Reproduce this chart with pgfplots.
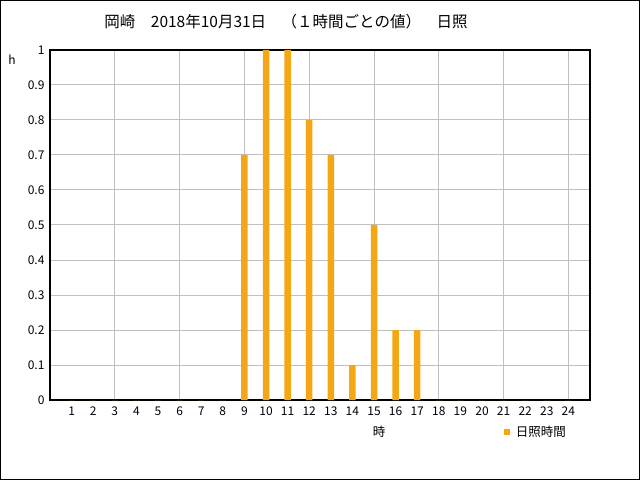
\documentclass[border=0pt]{standalone}
\usepackage{fontspec}
\setmainfont{Noto Sans CJK JP}
\usepackage{pgfplots}
\pgfplotsset{compat=1.18}
\definecolor{barorange}{RGB}{245,166,20}
\definecolor{gridgray}{RGB}{192,192,192}
\begin{document}
\begin{tikzpicture}[x=1pt,y=1pt]
\useasboundingbox (0,0) rectangle (640,480);
\fill[white] (0,0) rectangle (640,480);
\draw[black, line width=1pt] (0.5,0.5) rectangle (639.5,479.5);
\node[font=\fontsize{15.5}{17}\selectfont, anchor=center] at (286,458) {岡崎　2018年10月31日　（１時間ごとの値）　日照};
\node[font=\fontsize{12}{13}\selectfont] at (12,420) {h};
\node[font=\fontsize{12.5}{13}\selectfont] at (379,48) {時};
\begin{axis}[
 at={(50pt,80pt)}, anchor=south west,
 width=540pt, height=350pt, scale only axis,
 xmin=0, xmax=25, ymin=0, ymax=1,
 ybar, bar width=6.5pt,
 xtick={1,...,24},
 ytick={0,0.1,0.2,0.3,0.4,0.5,0.6,0.7,0.8,0.9,1},
 minor xtick={3,6,9,12,15,18,21,24},
 xminorgrids=true, ymajorgrids=true, xmajorgrids=false,
 grid style={gridgray, line width=1pt},
 minor grid style={gridgray, line width=1pt},
 major tick length=0pt, minor tick length=0pt,
 axis line style={black, line width=1.2pt},
 tick label style={font=\fontsize{12}{13}\selectfont},
 xticklabel style={yshift=-3pt},
 yticklabel style={xshift=-2pt},
 /pgf/number format/assume math mode=true,
 legend style={at={(0.84,-0.092)}, anchor=west, draw=none, fill=none,
   font=\fontsize{12.5}{13}\selectfont, inner sep=0pt},
]
\addplot[fill=barorange, draw=none,
  legend image code/.code={\fill[barorange] (0pt,-3pt) rectangle (6pt,3pt); \path (0pt,0pt) -- (10pt,0pt);}]
 coordinates {(1,0) (2,0) (3,0) (4,0) (5,0) (6,0) (7,0) (8,0)
 (9,0.7) (10,1.0) (11,1.0) (12,0.8) (13,0.7) (14,0.1) (15,0.5) (16,0.2) (17,0.2)
 (18,0) (19,0) (20,0) (21,0) (22,0) (23,0) (24,0)};
\addlegendentry{日照時間}
\end{axis}
\end{tikzpicture}
\end{document}
